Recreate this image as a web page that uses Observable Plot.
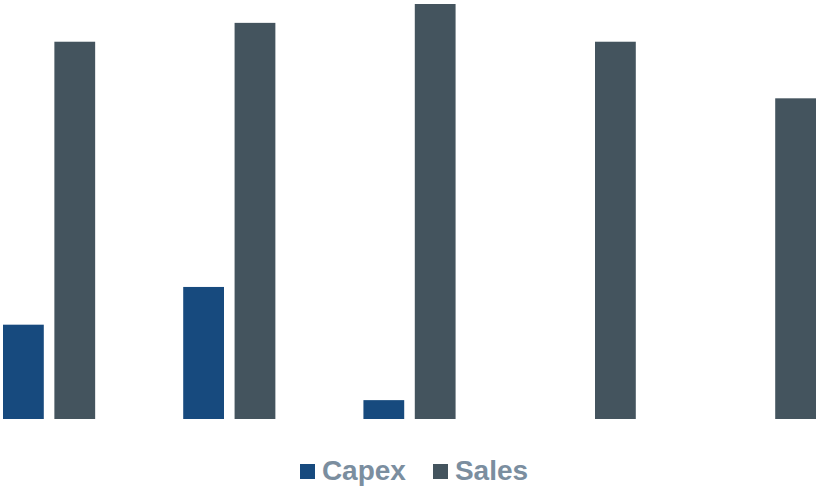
<!DOCTYPE html>
<html>
<head>
<meta charset="utf-8">
<script src="https://cdn.jsdelivr.net/npm/d3@7"></script>
<script src="https://cdn.jsdelivr.net/npm/@observablehq/plot@0.6"></script>
<style>
  html, body { margin: 0; padding: 0; background: #fff; }
  #chart svg { display: block; }
  #legend {
    display: flex; justify-content: center; align-items: center;
    margin-top: 35px; padding-left: 12px;
    font-family: "Liberation Sans", Arial, sans-serif; font-weight: bold;
    font-size: 28px; line-height: 32px; color: #7b8e9f;
  }
  .item { display: flex; align-items: center; }
  .sw { width: 15px; height: 15px; margin-right: 7px; }
  .item + .item { margin-left: 27px; }
</style>
</head>
<body>
<div id="chart"></div>
<div id="legend"></div>
<script>
const categories = ["G1", "G2", "G3", "G4", "G5"];
const seriesNames = ["Capex", "Sales"];
const capex = [5, 7, 1, 0, 0];
const sales = [20, 21, 22, 20, 17];
const colors = ["#174a7e", "#44545e"];

const data = categories.flatMap((c, i) => [
  {group: c, series: "Capex", value: capex[i]},
  {group: c, series: "Sales", value: sales[i]}
]);

const plot = Plot.plot({
  width: 816,
  height: 420,
  marginTop: 4,
  marginBottom: 1,
  marginLeft: 3,
  marginRight: 0,
  fx: {domain: categories, paddingInner: 0.4886, paddingOuter: 0, round: false, axis: null, label: null},
  x: {domain: seriesNames, paddingInner: 0.206, paddingOuter: 0, round: false, axis: null},
  y: {domain: [0, 22], axis: null},
  color: {domain: seriesNames, range: colors},
  marks: [
    Plot.barY(data, {fx: "group", x: "series", y: "value", fill: "series"})
  ]
});
document.getElementById("chart").appendChild(plot);

const legend = document.getElementById("legend");
seriesNames.forEach((s, i) => {
  const item = document.createElement("div");
  item.className = "item";
  const sw = document.createElement("span");
  sw.className = "sw";
  sw.style.background = colors[i];
  const t = document.createElement("span");
  t.textContent = s;
  item.appendChild(sw);
  item.appendChild(t);
  legend.appendChild(item);
});
</script>
</body>
</html>
